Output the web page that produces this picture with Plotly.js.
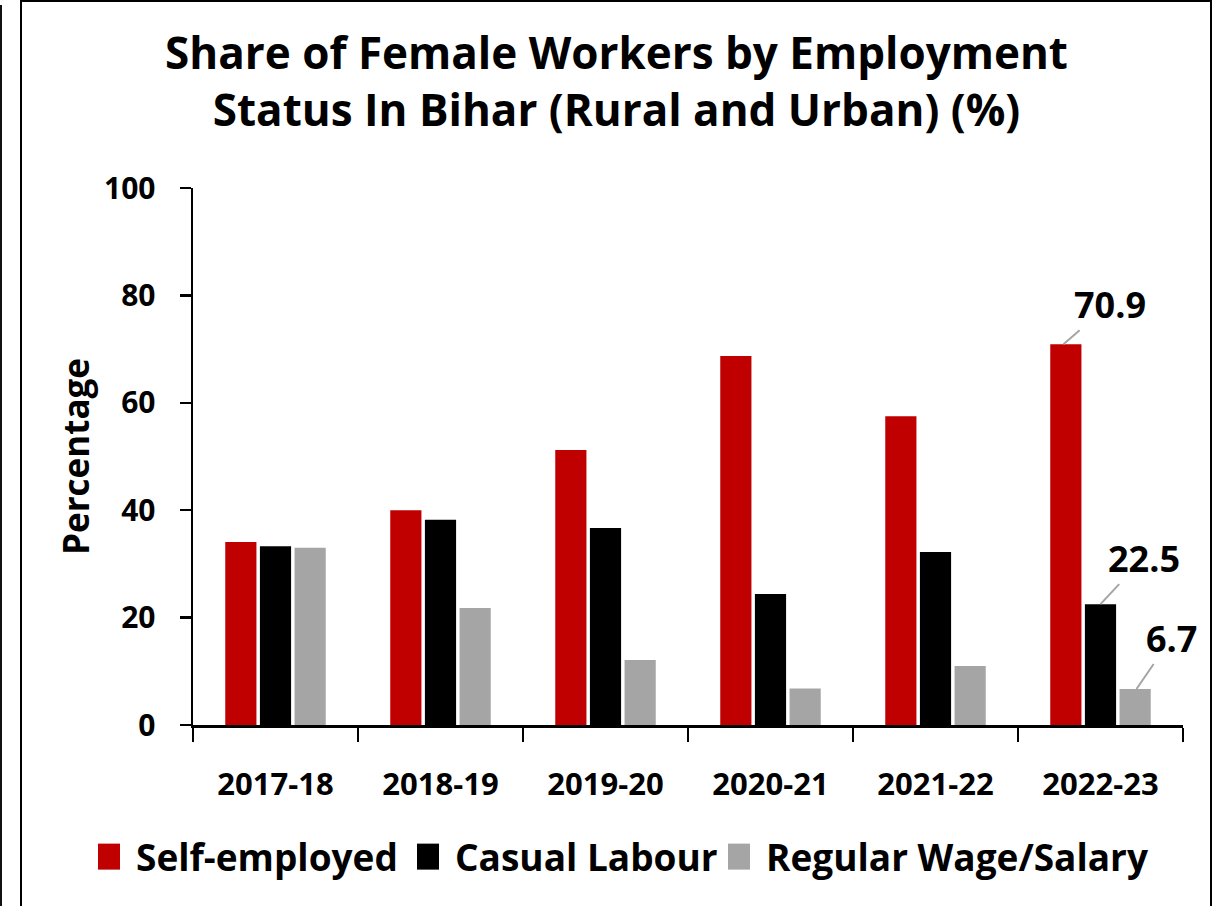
<!DOCTYPE html>
<html><head><meta charset="utf-8">
<script src="https://cdn.plot.ly/plotly-3.0.1.min.js"></script>
<style>
html,body{margin:0;padding:0;background:#fff;overflow:hidden;width:1216px;height:906px;}
#chart{width:1216px;height:906px;position:absolute;left:0;top:0;}
#frame{position:absolute;left:20px;top:0;width:1192px;height:906px;border:2.5px solid #000;border-bottom:none;box-sizing:border-box;pointer-events:none;}
#edge{position:absolute;left:0;top:5px;width:2px;height:901px;background:#111;pointer-events:none;}
</style></head><body>
<div id="chart"></div><div id="frame"></div><div id="edge"></div>
<script>
const years = ['2017-18','2018-19','2019-20','2020-21','2021-22','2022-23'];
const selfEmployed = [34.1, 40.0, 51.2, 68.7, 57.5, 70.9];
const casualLabour = [33.3, 38.2, 36.7, 24.4, 32.2, 22.5];
const regularWage  = [33.0, 21.8, 12.1, 6.8, 11.0, 6.7];
const seriesNames = ['Self-employed', 'Casual Labour', 'Regular Wage/Salary'];
const seriesColors = ['#C00000', '#000000', '#A5A5A5'];
const yTicks = [0, 20, 40, 60, 80, 100];

const FONT = 'Open Sans, Lato, sans-serif';
const allSeries = [selfEmployed, casualLabour, regularWage];
const legendIds = ['legend', 'legend2', 'legend3'];
const legendX = [96, 415, 726];

const traces = allSeries.map((vals, i) => ({
  type: 'bar', x: years, y: vals, name: seriesNames[i], showlegend: true,
  legend: legendIds[i], marker: {color: seriesColors[i]}, hoverinfo: 'x+y+name'
}));

// labels on the last period, one per series
const last = years.length - 1;
const labelOffsets = [{xs: -37, ax: 46, ay: -40}, {xs: 0, ax: 43, ay: -46}, {xs: 36, ax: 35, ay: -51}];
const annotations = allSeries.map((vals, i) => ({
  x: years[last], y: vals[last], xref: 'x', yref: 'y',
  text: vals[last].toFixed(1), showarrow: true, arrowhead: 0, arrowwidth: 2,
  arrowcolor: '#A5A5A5', standoff: 0, xshift: labelOffsets[i].xs,
  ax: labelOffsets[i].ax, ay: labelOffsets[i].ay,
  font: {family: FONT, size: 36, color: '#000', weight: 'bold'}
}));

const legendStyle = (px) => ({
  orientation: 'h', xref: 'container', yref: 'container', x: px / 1216, xanchor: 'left',
  y: 0.054, yanchor: 'middle', bgcolor: 'rgba(0,0,0,0)',
  font: {family: FONT, size: 37, color: '#000', weight: 'bold'}, itemclick: false, itemdoubleclick: false
});

const layout = {
  width: 1216, height: 906,
  margin: {l: 193, r: 33, t: 188, b: 181, pad: 0, autoexpand: false},
  paper_bgcolor: '#fff', plot_bgcolor: '#fff',
  font: {family: FONT, color: '#000'},
  title: {
    text: 'Share of Female Workers by Employment<br>Status In Bihar (Rural and Urban) (%)',
    font: {family: FONT, size: 44, color: '#000', weight: 'bold'},
    x: 0.507, xanchor: 'center', y: 0.924, yanchor: 'middle', xref: 'container', yref: 'container'
  },
  barmode: 'group', bargap: 0.37, bargroupgap: 0.1,
  xaxis: {
    type: 'category', range: [-0.5, years.length - 0.5], autorange: false,
    tickson: 'boundaries', ticks: 'outside', ticklen: 14, tickwidth: 2.5,
    tickcolor: '#000', showline: true, linecolor: '#000', linewidth: 2.5,
    showgrid: false, zeroline: false, ticklabelstandoff: 30, automargin: false,
    tickfont: {family: FONT, size: 31, color: '#000', weight: 'bold'}
  },
  yaxis: {
    range: [0, 100], autorange: false, tickvals: yTicks, ticks: 'outside', ticklen: 11, tickwidth: 2.5,
    tickcolor: '#000', showline: true, linecolor: '#000', linewidth: 2.5,
    showgrid: false, zeroline: false, ticklabelstandoff: 18, automargin: false,
    tickfont: {family: FONT, size: 30, color: '#000', weight: 'bold'},
    title: {text: 'Percentage', standoff: 4, font: {family: FONT, size: 35, color: '#000', weight: 'bold'}}
  },
  legend: legendStyle(legendX[0]),
  legend2: legendStyle(legendX[1]),
  legend3: legendStyle(legendX[2]),
  showlegend: true,
  annotations: annotations
};

Plotly.newPlot('chart', traces, layout, {displayModeBar: false, staticPlot: true}).then(() => {
  // enlarge the legend swatches (keep Plotly's own centring transform)
  document.querySelectorAll('.legendpoints path').forEach(p => {
    p.setAttribute('d', 'M4,13H-18V-13H4Z');
  });
});
</script>
</body></html>
